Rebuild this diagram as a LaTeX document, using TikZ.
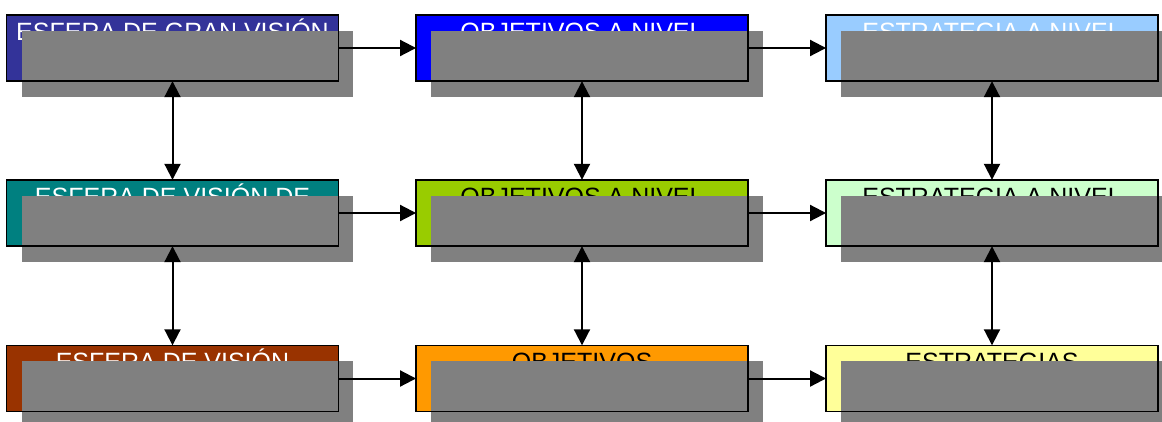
\documentclass[tikz,border=0pt]{standalone}
\usepackage{fontspec}
\setmainfont{Liberation Sans}
\usetikzlibrary{arrows.meta}

\definecolor{cA}{HTML}{333399}
\definecolor{cB}{HTML}{0000FF}
\definecolor{cC}{HTML}{99CCFF}
\definecolor{cD}{HTML}{008080}
\definecolor{cE}{HTML}{99CC00}
\definecolor{cF}{HTML}{CCFFCC}
\definecolor{cG}{HTML}{993300}
\definecolor{cH}{HTML}{FF9900}
\definecolor{cI}{HTML}{FFFF99}
\definecolor{veil}{HTML}{808080}

\tikzset{
  panel/.style={rectangle, minimum width=331.5pt, minimum height=66pt,
                inner sep=0pt, draw=none},
  caption/.style={anchor=base, inner sep=0pt,
                  font=\fontsize{25}{28}\selectfont},
  frame/.style={draw=black, line width=1.5pt},
  tip/.style={Triangle[length=16pt,width=16pt]},
  link/.style={draw=black, line width=2pt, -{Triangle[length=16pt,width=16pt]}},
  duplex/.style={draw=black, line width=2pt,
                 {Triangle[length=16pt,width=16pt]}-{Triangle[length=16pt,width=16pt]}},
}

% one coloured panel: fill, first caption line, grey overlay, frame
\newcommand{\panelbox}[5]{%
  \node[panel, fill=#4] (#1) at #2 {};
  \node[caption, text=#5] (#1t) at ([yshift=-25.6pt]#1.north) {#3};
  \fill[veil] ([shift={(15,16)}]#1.north west) rectangle ([shift={(15,16)}]#1.south east);
  \draw[frame] (#1.north west) rectangle (#1.south east);
}

\begin{document}
\begin{tikzpicture}[x=1pt,y=-1pt]
  \useasboundingbox (0,0) rectangle (1162,421);
  \clip (0,0) rectangle (1162,421);

  \panelbox{a1}{(172.5,48)}{ESFERA DE GRAN VISIÓN}{cA}{white}
  \panelbox{a2}{(582,48)}{OBJETIVOS A NIVEL}{cB}{white}
  \panelbox{a3}{(992,48)}{ESTRATEGIA A NIVEL}{cC}{white}

  \panelbox{b1}{(172.5,213)}{ESFERA DE VISIÓN DE}{cD}{white}
  \panelbox{b2}{(582,213)}{OBJETIVOS A NIVEL}{cE}{black}
  \panelbox{b3}{(992,213)}{ESTRATEGIA A NIVEL}{cF}{black}

  \panelbox{c1}{(172.5,378.5)}{ESFERA DE VISIÓN}{cG}{white}
  \panelbox{c2}{(582,378.5)}{OBJETIVOS}{cH}{black}
  \panelbox{c3}{(992,378.5)}{ESTRATEGIAS}{cI}{black}

  % horizontal flow
  \draw[link] (a1.east) -- (a2.west);
  \draw[link] (a2.east) -- (a3.west);
  \draw[link] (b1.east) -- (b2.west);
  \draw[link] (b2.east) -- (b3.west);
  \draw[link] (c1.east) -- (c2.west);
  \draw[link] (c2.east) -- (c3.west);

  % vertical two-way links
  \draw[duplex] (a1.south) -- (b1.north);
  \draw[duplex] (b1.south) -- (c1.north);
  \draw[duplex] (a2.south) -- (b2.north);
  \draw[duplex] (b2.south) -- (c2.north);
  \draw[duplex] (a3.south) -- (b3.north);
  \draw[duplex] (b3.south) -- (c3.north);
\end{tikzpicture}
\end{document}
